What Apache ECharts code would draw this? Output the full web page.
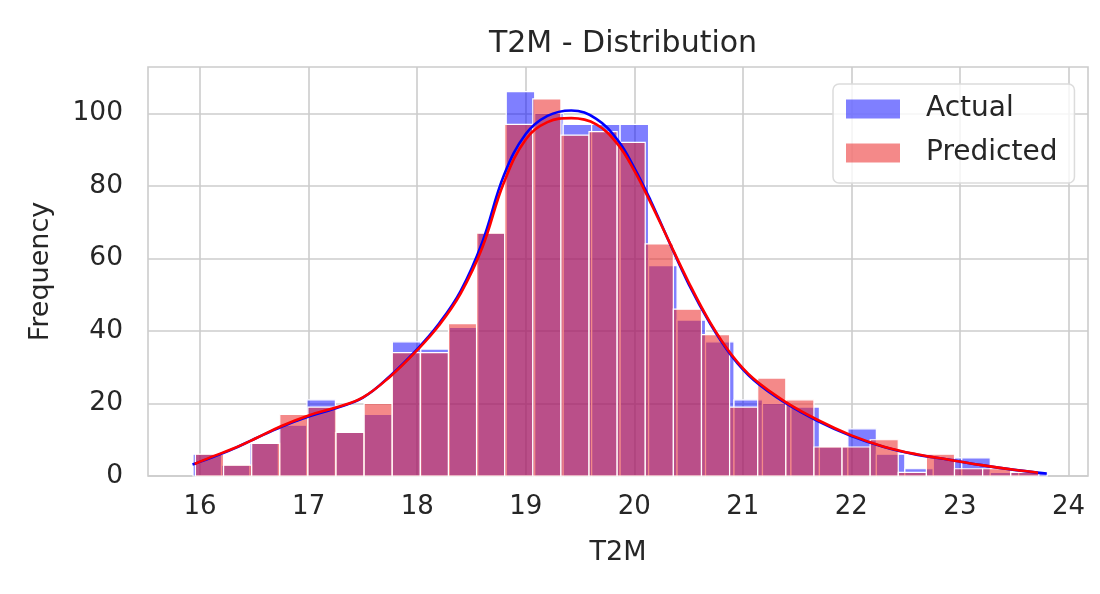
<!DOCTYPE html>
<html>
<head>
<meta charset="utf-8">
<script src="https://cdn.jsdelivr.net/npm/echarts@6/dist/echarts.min.js"></script>
<style>
  html, body { margin: 0; padding: 0; background: #fff; }
  #chart { width: 1100px; height: 594px; }
</style>
</head>
<body>
<div id="chart"></div>
<script>
// histogram counts per bin
const actualCounts = [6, 3, 9, 14, 21, 12, 17, 37, 35, 41, 67, 106, 100, 97, 97, 97, 58, 43, 37, 21, 20, 19, 8, 13, 6, 2, 5, 5, 1, 1];
const predictedCounts = [6, 3, 9, 17, 19, 12, 20, 34, 34, 42, 67, 97, 104, 94, 95, 92, 64, 46, 39, 19, 27, 21, 8, 8, 10, 1, 6, 2, 2, 1];

// bin edges (equal width bins from the data min)
const actualBinStart = 15.935;
const actualBinWidth = 0.2623;
const predictedBinStart = 15.957;
const predictedBinWidth = 0.259;

// kde curves (scaled to counts)
const actualKdeX = [15.93, 16.1, 16.3, 16.5, 16.75, 17.0, 17.25, 17.5, 17.75, 18.0, 18.2, 18.4, 18.6, 18.8, 19.0, 19.2, 19.42, 19.65, 19.85, 20.0, 20.15, 20.3, 20.5, 20.7, 20.9, 21.1, 21.4, 21.7, 22.0, 22.3, 22.6, 22.9, 23.2, 23.5, 23.8];
const actualKde = [3.2, 5.0, 7.4, 10.2, 13.6, 16.4, 18.7, 21.6, 27.6, 35.0, 42.0, 51.0, 64.5, 83.0, 94.3, 99.3, 100.8, 98.5, 92.5, 85.0, 76.0, 66.0, 53.0, 42.0, 33.0, 26.5, 20.0, 15.0, 11.0, 8.0, 5.9, 4.5, 3.0, 1.7, 0.7];
const predictedKdeX = [15.95, 16.1, 16.3, 16.5, 16.75, 17.0, 17.25, 17.5, 17.75, 18.0, 18.2, 18.4, 18.6, 18.8, 19.0, 19.2, 19.42, 19.65, 19.85, 20.0, 20.15, 20.3, 20.5, 20.7, 20.9, 21.1, 21.4, 21.7, 22.0, 22.3, 22.6, 22.9, 23.2, 23.5, 23.72];
const predictedKde = [3.3, 5.2, 7.5, 10.2, 13.8, 16.7, 18.9, 21.7, 27.4, 34.7, 41.5, 50.3, 63.0, 81.0, 92.8, 97.6, 98.7, 97.0, 91.4, 84.2, 75.4, 66.0, 53.5, 42.3, 33.3, 26.8, 20.3, 15.3, 11.2, 8.1, 6.0, 4.5, 3.0, 1.7, 0.9];

const xTicks = [16, 17, 18, 19, 20, 21, 22, 23, 24];
const yTicks = [0, 20, 40, 60, 80, 100];

const TEXT = '#262626';
const GRID = '#cccccc';
const FONT = 'DejaVu Sans';

const toBins = (start, width, counts) =>
  counts.map((c, i) => [start + i * width, start + (i + 1) * width, c]);

const zip = (xs, ys) => xs.map((x, i) => [x, ys[i]]);

const renderBar = (fill) => (params, api) => {
  const top = api.coord([api.value(0), api.value(2)]);
  const bottom = api.coord([api.value(1), 0]);
  return {
    type: 'rect',
    shape: { x: top[0], y: top[1], width: bottom[0] - top[0], height: bottom[1] - top[1] },
    style: { fill, stroke: '#ffffff', lineWidth: 1.2 },
  };
};

const chart = echarts.init(document.getElementById('chart'));

chart.setOption({
  animation: false,
  textStyle: { fontFamily: FONT, color: TEXT },
  title: {
    text: 'T2M - Distribution',
    left: 618,
    top: 24,
    textAlign: 'center',
    textStyle: { fontFamily: FONT, fontSize: 30, fontWeight: 'normal', color: TEXT },
  },
  legend: {
    data: ['Actual', 'Predicted'],
    orient: 'vertical',
    left: 833,
    top: 84,
    icon: 'rect',
    itemWidth: 54,
    itemHeight: 19,
    itemGap: 12,
    padding: [9, 17, 14, 13],
    backgroundColor: 'rgba(255,255,255,0.8)',
    borderColor: '#dcdcdc',
    borderWidth: 1.5,
    borderRadius: 6,
    textStyle: { fontFamily: FONT, fontSize: 28, color: TEXT, padding: [0, 0, 0, 21], lineHeight: 32 },
  },
  grid: {
    left: 148,
    top: 67,
    right: 12,
    bottom: 118,
    show: true,
    borderColor: GRID,
    borderWidth: 1.6,
    containLabel: false,
  },
  xAxis: {
    type: 'value',
    min: 15.52,
    max: 24.18,
    name: 'T2M',
    nameLocation: 'middle',
    nameGap: 63,
    nameTextStyle: { fontFamily: FONT, fontSize: 27, color: TEXT },
    axisLine: { show: false },
    axisTick: { show: false, customValues: xTicks },
    axisLabel: { customValues: xTicks, fontFamily: FONT, fontSize: 26, color: TEXT, margin: 18 },
    splitLine: { show: true, lineStyle: { color: GRID, width: 1.6 } },
  },
  yAxis: {
    type: 'value',
    min: 0,
    max: 112.8,
    name: 'Frequency',
    nameLocation: 'middle',
    nameGap: 94,
    nameTextStyle: { fontFamily: FONT, fontSize: 27, color: TEXT },
    axisLine: { show: false },
    axisTick: { show: false, customValues: yTicks },
    axisLabel: { customValues: yTicks, fontFamily: FONT, fontSize: 26.5, color: TEXT, margin: 25 },
    splitLine: { show: true, lineStyle: { color: GRID, width: 1.6 } },
  },
  series: [
    {
      name: 'Actual',
      type: 'custom',
      renderItem: renderBar('rgba(0,0,255,0.5)'),
      itemStyle: { color: 'rgba(0,0,255,0.5)' },
      encode: { x: [0, 1], y: 2 },
      data: toBins(actualBinStart, actualBinWidth, actualCounts),
      z: 2,
    },
    {
      name: 'Predicted',
      type: 'custom',
      renderItem: renderBar('rgba(235,40,40,0.55)'),
      itemStyle: { color: 'rgba(235,40,40,0.55)' },
      encode: { x: [0, 1], y: 2 },
      data: toBins(predictedBinStart, predictedBinWidth, predictedCounts),
      z: 3,
    },
    {
      name: 'Actual KDE',
      type: 'line',
      smooth: 0.4,
      showSymbol: false,
      lineStyle: { color: '#0000ff', width: 2.6 },
      data: zip(actualKdeX, actualKde),
      z: 4,
    },
    {
      name: 'Predicted KDE',
      type: 'line',
      smooth: 0.4,
      showSymbol: false,
      lineStyle: { color: '#ff0000', width: 2.6 },
      data: zip(predictedKdeX, predictedKde),
      z: 5,
    },
  ],
});
</script>
</body>
</html>
